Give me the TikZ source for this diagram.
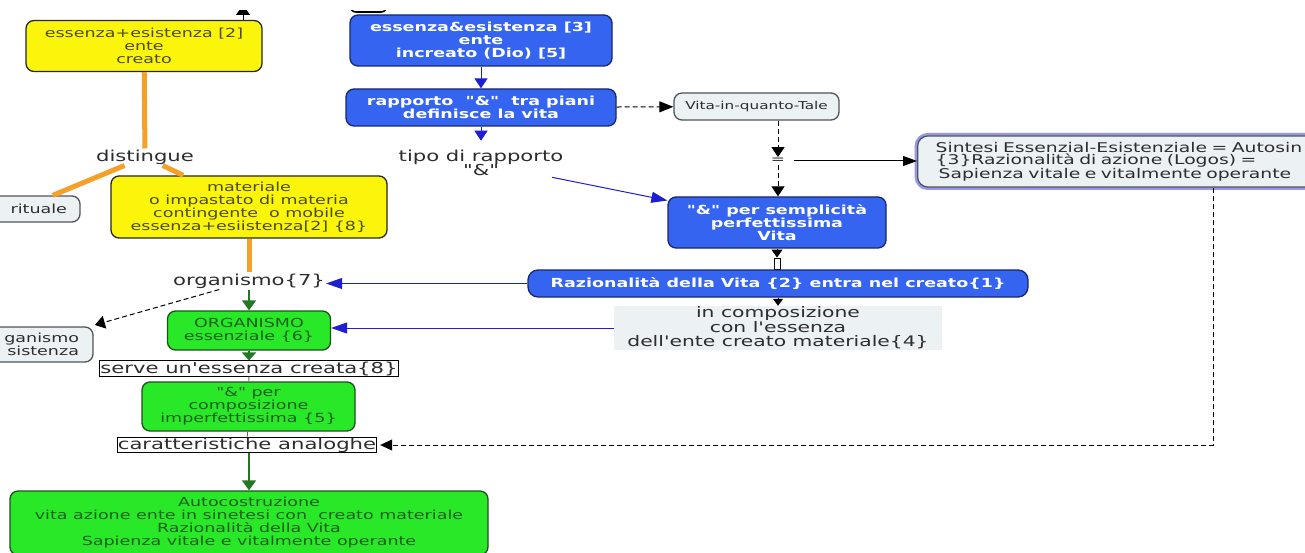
\documentclass[tikz,border=0pt]{standalone}
\usepackage{fontspec}
\setmainfont{DejaVu Sans}[FakeStretch=1.4,Ligatures=TeXOff]
\usetikzlibrary{arrows.meta}

\definecolor{ylwfill}{RGB}{250,245,10}
\definecolor{ylwtext}{RGB}{75,75,30}
\definecolor{bluefill}{RGB}{52,100,240}
\definecolor{blueline}{RGB}{25,40,110}
\definecolor{bluearrow}{RGB}{30,30,210}
\definecolor{grnfill}{RGB}{40,232,40}
\definecolor{grnline}{RGB}{30,80,30}
\definecolor{grntext}{RGB}{30,95,30}
\definecolor{grnarrow}{RGB}{35,120,35}
\definecolor{palefill}{RGB}{236,241,244}
\definecolor{paleline}{RGB}{80,85,90}
\definecolor{lavender}{RGB}{150,150,235}
\definecolor{labeltext}{RGB}{45,45,45}
\definecolor{orangelink}{RGB}{245,160,40}

\newcommand\boxfont{\fontsize{12.5}{13}\selectfont}
\newcommand\labfont{\fontsize{15.1}{14.5}\selectfont}
\newcommand\smallfont{\fontsize{10.9}{12}\selectfont}
\newcommand\sintfont{\fontsize{13.4}{12}\selectfont}

\begin{document}
\begin{tikzpicture}[x=1pt,y=-1pt,
  concept/.style={rounded corners=8pt, align=center, inner sep=0pt, line width=1.3pt},
  ybox/.style={concept, draw=black!85, fill=ylwfill, text=ylwtext, font=\boxfont},
  bbox/.style={concept, draw=blueline, fill=bluefill, text=white, font=\boxfont\bfseries},
  gbox/.style={concept, draw=grnline, fill=grnfill, text=grntext, font=\boxfont},
  pbox/.style={concept, draw=paleline, fill=palefill, text=labeltext, font=\smallfont},
  linkword/.style={align=center, inner sep=1pt, text=labeltext, font=\labfont},
  framedword/.style={draw=black, line width=0.9pt, fill=white, inner sep=0.6pt, text=labeltext, font=\labfont},
  olink/.style={draw=orangelink, line width=5pt},
  garrow/.style={draw=grnarrow, line width=1.6pt, -{Triangle[length=10pt,width=14pt]}},
  barrow/.style={draw=bluearrow, line width=1pt, -{Triangle[length=16pt,width=11pt]}},
  bvarrow/.style={draw=bluearrow, line width=1pt, -{Triangle[length=10pt,width=13pt]}},
  darrow/.style={draw=black, line width=1pt, dash pattern=on 5pt off 3pt, -{Triangle[length=10pt,width=13pt]}},
  karrow/.style={draw=black, line width=1pt, -{Triangle[length=14pt,width=10pt]}},
  kvarrow/.style={draw=black, line width=1pt, -{Triangle[length=8pt,width=11pt]}}
]
\useasboundingbox (0,0) rectangle (1305,553);
\fill[white] (0,0) rectangle (1305,553);
\clip (0,10.5) rectangle (1305,553);

% ---------- left column: created being ----------
\node[draw=black, line width=1.6pt, rounded corners=6pt, fill=white,
      minimum width=37, minimum height=20] (upper) at (368.5,2) {};
\node[ybox, minimum width=236, minimum height=51] (creato) at (144,46)
  {essenza+esistenza [2]\\ente\\creato};
\coordinate (topA) at (243,5);
\draw[karrow, -{Triangle[length=10pt,width=14pt]}] (creato.north -| topA) -- (topA);

\node[linkword] (dist) at (145,157) {distingue};
\node[pbox, font=\boxfont, text width=94, inner xsep=13, align=right, minimum height=26] (spir) at (20,209) {rituale};
\node[ybox, minimum width=276, minimum height=62] (mater) at (249,207)
  {materiale\\o impastato di materia\\contingente\ \ o mobile\\essenza+esiistenza[2] \{8\}};

\draw[olink] (creato) -- (dist);
\draw[olink] (dist) -- (spir);
\draw[olink] (dist) -- (mater);

\node[linkword] (org) at (249,281) {organismo\{7\}};
\draw[olink] (mater) -- (org);

\node[pbox, font=\boxfont, text width=105, inner xsep=14, align=right, minimum height=35] (orgex) at (26.5,344.5) {ganismo\\sistenza};
\node[gbox, minimum width=163, minimum height=39] (orgess) at (249,330.5)
  {ORGANISMO\\essenziale \{6\}};
\draw[garrow] (org) -- (orgess);
\draw[darrow, shorten >=5pt] (org) -- (orgex);

\node[framedword] (serve) at (249,368.5) {serve un'essenza creata\{8\}};
\draw[garrow, -{Triangle[length=8pt,width=14pt]}] (orgess) -- (serve);

\node[gbox, minimum width=213, minimum height=49] (compimp) at (248.5,406.5)
  {"\&" per\\composizione\\imperfettissima \{5\}};
\draw[draw=black!60, line width=0.8pt] (serve) -- (compimp);

\node[framedword] (analog) at (247,445) {caratteristiche analoghe};
\draw[draw=black!60, line width=0.8pt] (compimp) -- (analog);

\node[gbox, minimum width=478, minimum height=64] (autoc) at (249,523)
  {Autocostruzione\\vita azione ente in sinetesi con\ \ creato materiale\\Razionalità della Vita\\Sapienza vitale e vitalmente operante};
\draw[garrow] (analog.south -| autoc.north) -- (autoc.north);

% ---------- right column: uncreated being ----------
\node[bbox, minimum width=262, minimum height=51] (increato) at (481,40.5)
  {essenza\&esistenza [3]\\ente\\increato (Dio) [5]};
\node[bbox, minimum width=270, minimum height=37] (rapp) at (481,107.5)
  {rapporto\ \ "\&"\ \ tra piani\\definisce la vita};
\draw[bvarrow] (increato) -- (rapp);

\node[pbox, minimum width=165, minimum height=27] (vita) at (756.5,106.5) {Vita-in-quanto-Tale};
\draw[darrow, -{Triangle[length=14pt,width=11pt]}] (rapp) -- (vita);

\node[linkword] (tipo) at (481,163) {tipo di rapporto\\"\&"};
\draw[bvarrow, shorten >=8pt] (rapp) -- (tipo);

\node[bbox, minimum width=218, minimum height=51] (sempl) at (777,222.5)
  {"\&" per semplicità\\perfettissima\\Vita};
\draw[barrow] (tipo) -- (sempl);

\node[inner sep=1pt, font=\fontsize{12}{12}\selectfont, text=labeltext] (eq) at (778,161) {=};
\draw[darrow] (vita.south -| eq) -- (eq);
\draw[darrow] (eq) -- (sempl.north -| eq);

\node[concept, rounded corners=10pt, draw=paleline, fill=palefill, text=labeltext,
      font=\sintfont, align=left, text width=500, inner xsep=18, minimum height=51,
      anchor=west, preaction={draw=lavender, line width=6pt}] (sint) at (917,161.5)
  {Sintesi Essenzial-Esistenziale = Autosin\\\{3\}Razionalità di azione (Logos) =\\\hspace*{3pt}Sapienza vitale e vitalmente operante};
\draw[karrow, shorten <=8pt] (eq) -- (eq -| sint.west);

\node[draw=black, line width=0.9pt, fill=white, minimum width=6, minimum height=11, inner sep=0pt] (gap) at (777,263.5) {};
\draw[kvarrow] (sempl.south -| gap) -- (gap);

\node[bbox, rounded corners=10pt, minimum width=500, minimum height=27] (razio) at (778,283.5)
  {Razionalità della Vita \{2\} entra nel creato\{1\}};
\draw[black, line width=1pt] (gap) -- (razio.north -| gap);
\draw[barrow] (razio.west) -- (razio.west -| org.east);

\node[fill=palefill, minimum width=328, minimum height=44, inner sep=0pt, align=center,
      text=labeltext, font=\fontsize{14.5}{14.5}\selectfont] (incomp) at (778,328)
  {in composizione\\con l'essenza\\dell'ente creato materiale\{4\}};
\draw[kvarrow, -{Triangle[length=7pt,width=10pt]}] (razio) -- (incomp);
\draw[barrow] (incomp.west) -- (incomp.west -| orgess.east);

% dashed return link from the synthesis to the analogous characteristics
\coordinate (sdrop) at (1213,0);
\draw[darrow, -{Triangle[length=12pt,width=11pt]}, shorten >=3pt] (sint.south -| sdrop) |- (analog.east);
\end{tikzpicture}
\end{document}
